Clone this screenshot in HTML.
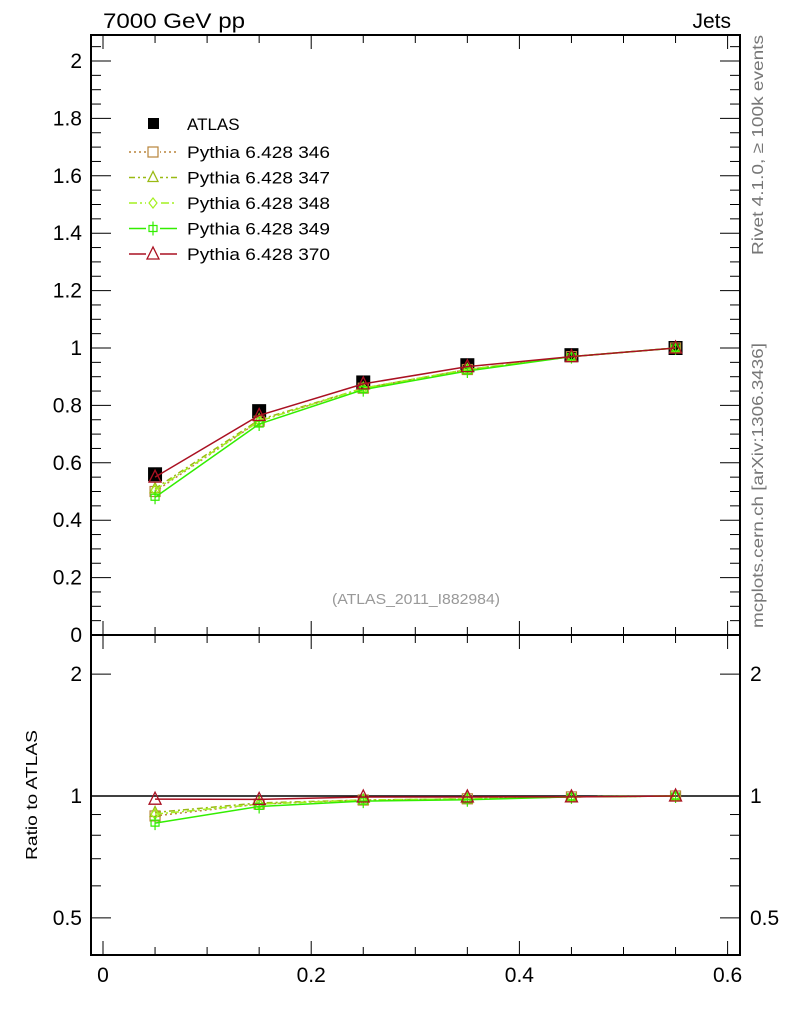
<!DOCTYPE html>
<html><head><meta charset="utf-8"><style>
body{margin:0;background:#fff;}
svg text{font-family:"Liberation Sans",sans-serif;}
</style></head><body>
<svg id="chart" width="786" height="1024" xmlns="http://www.w3.org/2000/svg">
<rect width="786" height="1024" fill="#fff"/>
<text x="103" y="28" font-size="21" textLength="142" lengthAdjust="spacingAndGlyphs">7000 GeV pp</text>
<text x="731" y="28" font-size="21" text-anchor="end">Jets</text>
<text transform="translate(763,255) rotate(-90)" font-size="16" fill="#777" textLength="220" lengthAdjust="spacingAndGlyphs">Rivet 4.1.0, ≥ 100k events</text>
<text transform="translate(763,628) rotate(-90)" font-size="16" fill="#777" textLength="285" lengthAdjust="spacingAndGlyphs">mcplots.cern.ch [arXiv:1306.3436]</text>
<text x="332" y="604" font-size="15" fill="#999" textLength="168" lengthAdjust="spacingAndGlyphs">(ATLAS_2011_I882984)</text>
<text transform="translate(37,860) rotate(-90)" font-size="16" textLength="130" lengthAdjust="spacingAndGlyphs">Ratio to ATLAS</text>
<g id="axes"></g>
<g id="marks"></g>
<g id="legend"></g>
</svg>
<script>
const xCenters=[0.05,0.15,0.25,0.35,0.45,0.55];
const atlas=[0.56,0.78,0.88,0.94,0.975,1.0];
const p346=[0.50,0.745,0.86,0.925,0.97,1.0];
const p347=[0.51,0.75,0.86,0.925,0.97,1.0];
const p348=[0.505,0.745,0.86,0.925,0.97,1.0];
const p349=[0.48,0.735,0.855,0.92,0.97,1.0];
const p370=[0.55,0.765,0.875,0.935,0.97,1.0];
const xTicks=["0","0.2","0.4","0.6"];
const yTicks=["0","0.2","0.4","0.6","0.8","1","1.2","1.4","1.6","1.8","2"];
const rTicks=["0.5","1","2"];
const seriesNames=["Pythia 6.428 346","Pythia 6.428 347","Pythia 6.428 348","Pythia 6.428 349","Pythia 6.428 370"];

const NS="http://www.w3.org/2000/svg";
const L=91,R=740,T=35,M=635,B=955;
const X=v=>103+v*1041;
const Y=v=>635-v*287;
const RY=v=>796-Math.log10(v)*405;
function mk(tag,attrs,parent){const e=document.createElementNS(NS,tag);for(const k in attrs)e.setAttribute(k,attrs[k]);parent.appendChild(e);return e;}
const ax=document.getElementById('axes');
const mg=document.getElementById('marks');
const lg=document.getElementById('legend');

let f=mk('rect',{x:L,y:T,width:R-L,height:M-T,fill:'none',stroke:'#000','stroke-width':2},ax);


f=mk('rect',{x:L,y:M,width:R-L,height:B-M,fill:'none',stroke:'#000','stroke-width':2},ax);



for(let i=0;i<=12;i++){const v=i*0.05;const x=X(v);if(x>R)continue;const len=(i%4==0)?14:8;
 mk('line',{x1:x,y1:B,x2:x,y2:B-len,stroke:'#000'},ax);
 mk('line',{x1:x,y1:M,x2:x,y2:M-len,stroke:'#000'},ax);
 mk('line',{x1:x,y1:M,x2:x,y2:M+len,stroke:'#000'},ax);
 mk('line',{x1:x,y1:T,x2:x,y2:T+len,stroke:'#000'},ax);}
xTicks.forEach(t=>{const e=mk('text',{x:X(+t),y:982,'font-size':21,'text-anchor':'middle'},ax);e.textContent=t;
 
 });
for(let i=0;i<=41;i++){const v=i*0.05;const y=Y(v);if(y<T)continue;const len=(i%4==0)?20:10;
 mk('line',{x1:L,y1:y,x2:L+len,y2:y,stroke:'#000'},ax);
 mk('line',{x1:R,y1:y,x2:R-len,y2:y,stroke:'#000'},ax);}
yTicks.forEach(t=>{const e=mk('text',{x:82,y:Y(+t)+7,'font-size':21,'text-anchor':'end'},ax);e.textContent=t;
 
 });
[0.5,0.6,0.7,0.8,0.9,1,2].forEach(v=>{const y=RY(v);const len=(v==0.5||v==1||v==2)?20:10;
 mk('line',{x1:L,y1:y,x2:L+len,y2:y,stroke:'#000'},ax);
 mk('line',{x1:R,y1:y,x2:R-len,y2:y,stroke:'#000'},ax);});
rTicks.forEach(t=>{let e=mk('text',{x:82,y:RY(+t)+7,'font-size':21,'text-anchor':'end'},ax);e.textContent=t;
 
 
 e=mk('text',{x:750,y:RY(+t)+7,'font-size':21},ax);e.textContent=t;
 
 });
mk('line',{x1:L,y1:RY(1),x2:R,y2:RY(1),stroke:'#000','stroke-width':1.5},ax);

const styles=[
 {d:p346,c:'#b8843a',dash:'2,3',m:'sq'},
 {d:p347,c:'#9aba14',dash:'6,3,2,3',m:'tri'},
 {d:p348,c:'#a4f020',dash:'8,3,2,3',m:'dia'},
 {d:p349,c:'#33ee00',dash:'',m:'cross'},
 {d:p370,c:'#aa1122',dash:'',m:'tri'}];
function marker(m,x,y,c,p,big){const s=big?6:5;let e;
 if(m=='sq')e=mk('rect',{x:x-s,y:y-s,width:2*s,height:2*s,fill:'none',stroke:c,'stroke-width':1.2},p);
 else if(m=='tri')e=mk('polygon',{points:`${x},${y-s-1} ${x-s},${y+s-1} ${x+s},${y+s-1}`,fill:'none',stroke:c,'stroke-width':1.3},p);
 else if(m=='dia')e=mk('polygon',{points:`${x},${y-s} ${x-s+1},${y} ${x},${y+s} ${x+s-1},${y}`,fill:'none',stroke:c,'stroke-width':1.2},p);
 else e=mk('path',{d:`M${x-4},${y-3}h8v6h-8zM${x},${y-7}v14`,fill:'none',stroke:c,'stroke-width':1.2},p);
 return e;}
const ag=mk('g',{},mg);


atlas.forEach((v,i)=>{mk('rect',{x:X(xCenters[i])-7,y:Y(v)-7,width:14,height:14,fill:'#000'},ag);});
styles.forEach((s,si)=>{
 const g=mk('g',{},mg);
 
 
 const pts=s.d.map((v,i)=>X(xCenters[i])+','+Y(v)).join(' ');
 mk('polyline',{points:pts,fill:'none',stroke:s.c,'stroke-width':1.5,'stroke-dasharray':s.dash},g);
 const rpts=s.d.map((v,i)=>X(xCenters[i])+','+RY(v/atlas[i])).join(' ');
 mk('polyline',{points:rpts,fill:'none',stroke:s.c,'stroke-width':1.5,'stroke-dasharray':s.dash},g);
 s.d.forEach((v,i)=>{marker(s.m,X(xCenters[i]),Y(v),s.c,g,si==4);marker(s.m,X(xCenters[i]),RY(v/atlas[i]),s.c,g,si==4);});
});

let le=mk('g',{},lg);


mk('rect',{x:148,y:118,width:11,height:11,fill:'#000'},le);
let t=mk('text',{x:187,y:130,'font-size':17},le);t.textContent='ATLAS';
styles.forEach((s,i)=>{const y=152+i*25.5;
 const g=mk('g',{},lg);
 
 
 mk('line',{x1:129,y1:y,x2:177,y2:y,stroke:s.c,'stroke-width':1.5,'stroke-dasharray':s.dash},g);
 mk('rect',{x:146,y:y-7,width:14,height:14,fill:'#fff'},g);
 marker(s.m,153,y,s.c,g,i==4);
 const tt=mk('text',{x:187,y:y+6,'font-size':17,textLength:143,lengthAdjust:'spacingAndGlyphs'},g);tt.textContent=seriesNames[i];});
</script>
</body></html>
